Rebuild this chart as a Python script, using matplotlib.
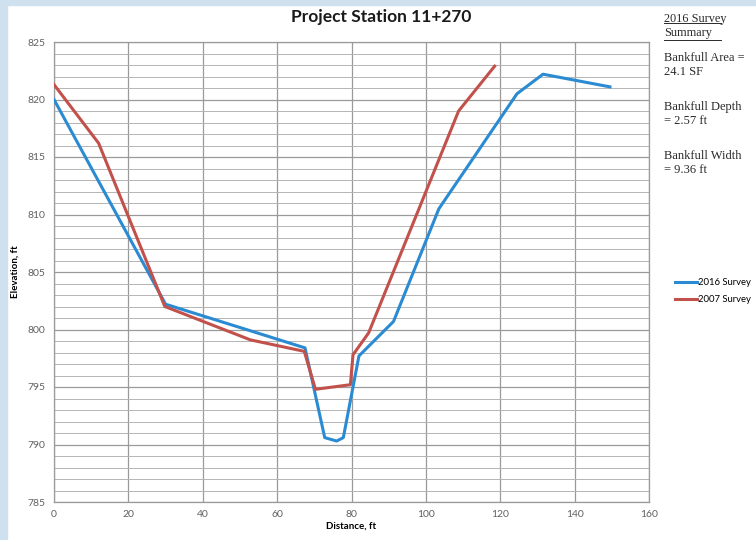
import numpy as np
import matplotlib.pyplot as plt
from matplotlib.lines import Line2D
from matplotlib.patches import Rectangle

plt.rcParams['font.family'] = ['Lato', 'DejaVu Sans']

# survey data
dist_2016 = [0, 30, 67.5, 72.8, 76, 77.8, 82, 91.3, 103.5, 124.5, 131.5, 149.5]
elev_2016 = [820.0, 802.2, 798.4, 790.6, 790.3, 790.6, 797.7, 800.7, 810.5, 820.5, 822.2, 821.1]

dist_2007 = [0, 12, 29.8, 52.8, 67.3, 70.3, 79.7, 80.4, 84.6, 108.8, 118.5]
elev_2007 = [821.3, 816.2, 802.0, 799.1, 798.1, 794.8, 795.2, 797.8, 799.7, 819.0, 822.9]

summary_lines = ["Bankfull Area =\n24.1 SF", "Bankfull Depth\n= 2.57 ft", "Bankfull Width\n= 9.36 ft"]

fig = plt.figure(figsize=(7.56, 5.4), dpi=100)
fig.patch.set_facecolor('white')
# light blue frame around the picture (top and left)
fig.add_artist(Rectangle((0, 1 - 5 / 540), 1, 5 / 540, transform=fig.transFigure,
                         color='#cfe0ee', zorder=0))
fig.add_artist(Rectangle((0, 0), 7 / 756, 1, transform=fig.transFigure,
                         color='#cfe0ee', zorder=0))

ax = fig.add_axes([54 / 756, 1 - 502 / 540, 595 / 756, 460 / 540])

ax.plot(dist_2016, elev_2016, color='#2b8bd2', linewidth=2.2, label='2016 Survey', zorder=3)
ax.plot(dist_2007, elev_2007, color='#c2514c', linewidth=2.2, label='2007 Survey', zorder=3)

ax.set_xlim(0, 160)
ax.set_ylim(785, 825)
ax.set_xticks(np.arange(0, 161, 20))
ax.set_yticks(np.arange(785, 826, 5))
ax.set_yticks(np.arange(785, 826, 1), minor=True)
ax.grid(which='major', color='#9a9a9a', linewidth=0.9)
ax.grid(which='minor', axis='y', color='#b4b4b4', linewidth=0.7)
ax.tick_params(which='both', length=0, labelsize=7.5, colors='#606060', pad=6)
for s in ax.spines.values():
    s.set_color('#9a9a9a')
    s.set_linewidth(0.9)

ax.set_xlabel('Distance, ft', fontsize=7, fontweight='bold', labelpad=2)
ax.set_ylabel('Elevation, ft', fontsize=7, fontweight='bold', labelpad=6)

fig.text(381 / 756, 1 - 17 / 540, 'Project Station 11+270', ha='center', va='center',
         fontsize=12.5, fontweight='bold', color='#1a1a1a')

# summary text on the right
serif = 'Liberation Serif'
fig.text(664 / 756, 1 - 26 / 540, '2016 Survey\nSummary', ha='left', va='center',
         fontsize=8.8, family=serif, color='#2a2a2a', linespacing=1.3)
fig.add_artist(Line2D([664 / 756, 721 / 756], [1 - 23 / 540, 1 - 23 / 540],
                      transform=fig.transFigure, color='#2a2a2a', linewidth=0.7))
fig.add_artist(Line2D([664 / 756, 721 / 756], [1 - 40 / 540, 1 - 40 / 540],
                      transform=fig.transFigure, color='#2a2a2a', linewidth=0.7))
for i, t in enumerate(summary_lines):
    fig.text(664 / 756, 1 - (65 + 49 * i) / 540, t, ha='left', va='center',
             fontsize=9, family=serif, color='#2a2a2a', linespacing=1.3)

ax.legend(loc='center left', bbox_to_anchor=(671 / 756, 1 - 291 / 540),
          bbox_transform=fig.transFigure, frameon=False, fontsize=6.8,
          handlelength=2.4, handletextpad=0.1, labelspacing=0.85, borderaxespad=0)

fig.savefig('out.png', dpi=100)
